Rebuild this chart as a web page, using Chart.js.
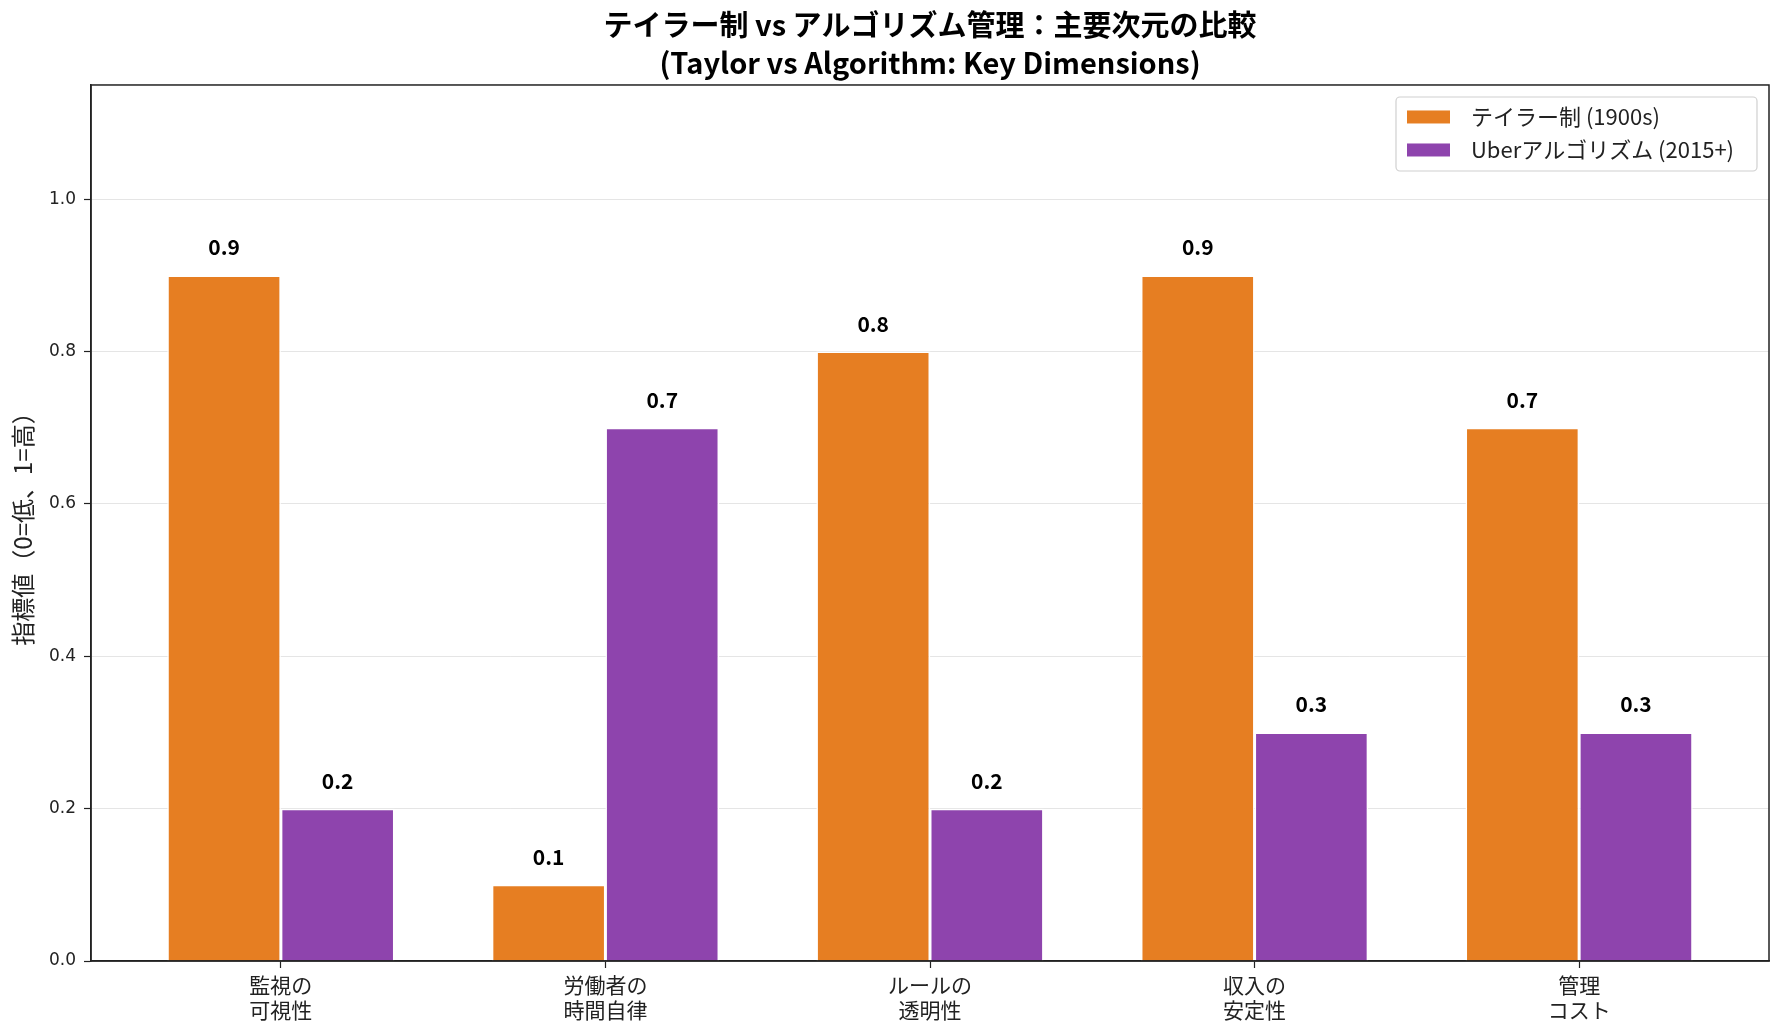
<!DOCTYPE html>
<html>
<head>
<meta charset="utf-8">
<script src="https://cdn.jsdelivr.net/npm/chart.js@4.4.1/dist/chart.umd.min.js"></script>
<style>
html,body{margin:0;padding:0;background:#fff;}
#wrap{width:1784px;height:1034px;}
</style>
</head>
<body>
<div id="wrap"><canvas id="c" width="1784" height="1034"></canvas></div>
<script>
const categories = [["監視の","可視性"],["労働者の","時間自律"],["ルールの","透明性"],["収入の","安定性"],["管理","コスト"]];
const seriesNames = ["テイラー制 (1900s)", "Uberアルゴリズム (2015+)"];
const taylorValues = [0.9, 0.1, 0.8, 0.9, 0.7];
const uberValues = [0.2, 0.7, 0.2, 0.3, 0.3];
const yTicks = [0.0, 0.2, 0.4, 0.6, 0.8, 1.0];
const titleLines = ["テイラー制 vs アルゴリズム管理：主要次元の比較", "(Taylor vs Algorithm: Key Dimensions)"];
const yTitle = "指標値（0=低、1=高）";
const colors = ["#E67E22", "#8E44AD"];

const CJK = "'Noto Sans CJK JP', 'Noto Sans', sans-serif";

const framePlugin = {
  id: 'frame',
  afterDatasetsDraw(chart) {
    const {ctx} = chart;
    ctx.save();
    ctx.font = "bold 21px " + CJK;
    ctx.fillStyle = "#000";
    ctx.textAlign = "center";
    ctx.textBaseline = "alphabetic";
    chart.data.datasets.forEach((ds, di) => {
      const meta = chart.getDatasetMeta(di);
      meta.data.forEach((bar, i) => {
        const v = ds.data[i].y;
        ctx.fillText(v.toFixed(1), bar.x, bar.y - 20);
      });
    });
    ctx.restore();
  },
  afterDraw(chart) {
    const {ctx, chartArea: a} = chart;
    ctx.save();
    ctx.strokeStyle = "#222";
    ctx.lineWidth = 1.5;
    ctx.strokeRect(a.left, a.top, a.right - a.left, a.bottom - a.top);
    // legend
    const bx = a.right - 373, by = a.top + 12, bw = 361, bh = 74;
    ctx.fillStyle = "rgba(255,255,255,0.85)";
    ctx.strokeStyle = "#d0d0d0";
    ctx.lineWidth = 1.2;
    ctx.beginPath();
    ctx.roundRect(bx, by, bw, bh, 4);
    ctx.fill();
    ctx.stroke();
    ctx.font = "22px " + CJK;
    ctx.textAlign = "left";
    ctx.textBaseline = "middle";
    chart.data.datasets.forEach((ds, di) => {
      const cy = by + 20 + di * 33;
      ctx.fillStyle = ds.backgroundColor;
      ctx.fillRect(bx + 11, cy - 6.5, 43, 13);
      ctx.fillStyle = "#222";
      ctx.fillText(ds.label, bx + 75, cy);
    });
    ctx.restore();
  }
};

const toPts = arr => arr.map((v, i) => ({x: i, y: v}));

new Chart(document.getElementById('c'), {
  type: 'bar',
  data: {
    datasets: [
      {label: seriesNames[0], data: toPts(taylorValues), backgroundColor: colors[0], borderColor: "#fff", borderWidth: 1.5, categoryPercentage: 0.7, barPercentage: 1.0},
      {label: seriesNames[1], data: toPts(uberValues), backgroundColor: colors[1], borderColor: "#fff", borderWidth: 1.5, categoryPercentage: 0.7, barPercentage: 1.0}
    ]
  },
  options: {
    responsive: false,
    animation: false,
    layout: {padding: {left: 0, right: 15, top: 0, bottom: 0}},
    plugins: {
      legend: {display: false},
      tooltip: {enabled: false},
      title: {
        display: true,
        fullSize: false,
        text: titleLines,
        color: "#000",
        font: {family: CJK, size: 29, weight: 'bold', lineHeight: 1.31},
        padding: {top: 6, bottom: 3}
      }
    },
    scales: {
      x: {
        type: 'linear',
        offset: false,
        min: -0.585,
        max: 4.585,
        afterBuildTicks: axis => { axis.ticks = categories.map((_, i) => ({value: i})); },
        afterFit: axis => { axis.height = 73; },
        ticks: {
          callback: v => categories[v],
          color: "#222",
          font: {family: CJK, size: 21, lineHeight: 1.2},
          padding: 4,
          maxRotation: 0,
          autoSkip: false
        },
        grid: {drawOnChartArea: false, offset: false, tickLength: 7, tickColor: "#222", tickWidth: 1.2},
        border: {color: "#222", width: 1.5}
      },
      y: {
        min: 0,
        max: 1.15,
        afterBuildTicks: axis => { axis.ticks = yTicks.map(v => ({value: v})); },
        afterFit: axis => { axis.width = 91; },
        ticks: {
          callback: v => Number(v).toFixed(1),
          color: "#222",
          font: {family: "'DejaVu Sans', sans-serif", size: 17},
          padding: 8
        },
        grid: {color: "rgba(0,0,0,0.1)", lineWidth: 1, tickLength: 7, tickColor: "#222", tickWidth: 1.2},
        border: {color: "#222", width: 1.5},
        title: {
          display: true,
          text: yTitle,
          color: "#222",
          font: {family: CJK, size: 24},
          padding: {top: 8, bottom: 0}
        }
      }
    }
  },
  plugins: [framePlugin]
});
</script>
</body>
</html>
